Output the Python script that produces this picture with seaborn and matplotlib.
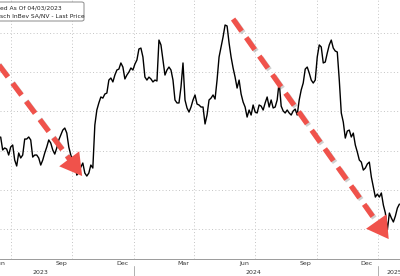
import matplotlib
matplotlib.use("Agg")
import matplotlib.pyplot as plt
import matplotlib.dates as mdates
import matplotlib.patheffects as pe
from matplotlib.patches import FancyBboxPatch
from matplotlib.lines import Line2D
from matplotlib.ticker import NullFormatter
import numpy as np
import pandas as pd
import seaborn as sns

# ---------------- data ----------------
start_date = "2023-06-16"
step_days = 3
prices = [
    53.37, 52.54, 52.67, 52.60, 52.22, 52.73, 52.86, 51.90, 51.52, 52.35,
    52.03, 52.22, 53.24, 53.24, 53.37, 53.18, 52.09, 52.22, 52.22, 52.03,
    51.58, 51.90, 52.35, 52.73, 53.18, 52.98, 52.54, 52.28, 52.67, 53.18,
    53.49, 53.81, 53.94, 53.62, 52.73, 52.22, 51.90, 51.77, 50.94, 51.13,
    51.45, 51.71, 51.07, 50.88, 51.07, 51.58, 51.39, 54.13, 55.09, 55.54,
    55.92, 55.85, 56.11, 56.17, 57.00, 57.13, 56.88, 57.32, 57.64, 57.70,
    58.09, 57.83, 57.07, 57.32, 57.51, 57.77, 57.64, 58.02, 58.28, 58.98,
    59.04, 58.47, 57.19, 57.00, 57.19, 57.07, 56.88, 57.00, 56.94, 59.55,
    59.24, 58.28, 57.32, 57.64, 57.83, 57.64, 57.00, 55.73, 55.54, 55.54,
    56.56, 58.09, 55.73, 55.22, 54.96, 55.28, 55.73, 56.05, 55.47, 55.41,
    55.28, 55.28, 54.20, 54.77, 55.73, 55.85, 56.05, 55.79, 57.00, 58.47,
    59.11, 59.75, 60.51, 60.45, 59.36, 58.47, 57.77, 57.19, 56.49, 57.00,
    56.11, 55.60, 55.28, 54.64, 55.09, 54.77, 55.41, 54.96, 54.90, 55.41,
    55.34, 55.09, 55.54, 55.92, 55.28, 55.73, 55.22, 55.28, 55.73, 56.88,
    55.34, 55.03, 54.90, 55.09, 54.90, 54.77, 55.03, 55.15, 54.77, 55.73,
    56.37, 56.81, 57.70, 57.83, 57.45, 57.00, 56.81, 57.00, 58.47, 59.24,
    59.11, 58.09, 58.15, 58.72, 59.24, 59.55, 59.04, 58.85, 58.79, 57.00,
    54.90, 54.32, 53.30, 53.75, 53.81, 53.37, 53.62, 52.86, 52.41, 51.90,
    51.77, 51.26, 51.39, 51.65, 51.77, 50.82, 50.18, 49.54, 49.73, 49.54,
    49.80, 49.03, 48.52, 47.44, 48.52, 48.20, 47.95, 48.33, 48.84, 49.09,
]
dates = pd.date_range(start_date, periods=len(prices), freq=f"{step_days}D")

month_labels = ["Jun", "Sep", "Dec", "Mar", "Jun", "Sep", "Dec"]
month_label_dates = ["2023-06-15", "2023-09-15", "2023-12-15", "2024-03-15",
                     "2024-06-15", "2024-09-15", "2024-12-15"]
year_labels = ["2023", "2024", "2025"]
year_label_dates = ["2023-08-14", "2024-06-28", "2025-01-26"]
year_boundaries = ["2024-01-01", "2025-01-01"]
quarter_grid_dates = ["2023-07-01", "2023-10-01", "2024-01-01", "2024-04-01",
                      "2024-07-01", "2024-10-01", "2025-01-01"]
price_grid = [47.5, 50.0, 52.5, 55.0, 57.5, 60.0]

legend_line1 = "ed As Of 04/03/2023"
legend_line2 = "sch InBev SA/NV - Last Price"

arrow_starts = [("2023-06-01", 58.66), ("2024-05-29", 60.89)]
arrow_tips = [("2023-10-16", 50.88), ("2025-01-17", 46.86)]

# ---------------- figure ----------------
sns.set_style("white")
plt.rcParams["font.family"] = ["DejaVu Sans"]

W, H = 400, 276
fig = plt.figure(figsize=(W / 100, H / 100), dpi=100)
ax_bottom_px = 17
ax_h = H - ax_bottom_px
ax = fig.add_axes([0, ax_bottom_px / H, 1, ax_h / H])

df = pd.DataFrame({"date": dates, "price": prices})
sns.lineplot(data=df, x="date", y="price", ax=ax, color="black", lw=1.0, zorder=3)
ax.set_xlabel("")
ax.set_ylabel("")

ax.set_xlim(pd.Timestamp("2023-06-16 07:00"), pd.Timestamp("2025-02-02 22:00"))
ax.set_ylim(45.59, 62.105)

grid_kw = dict(color="#c4c4c4", lw=0.7, linestyle=(0, (1, 2.4)), zorder=1)
for v in price_grid:
    ax.axhline(v, **grid_kw)
for d in quarter_grid_dates:
    ax.axvline(pd.Timestamp(d), **grid_kw)

ax.set_yticks([])
for s in ["top", "left", "right"]:
    ax.spines[s].set_visible(False)
ax.spines["bottom"].set_color("#9a9a9a")
ax.spines["bottom"].set_linewidth(0.7)

ax.xaxis.set_major_locator(mdates.MonthLocator())
ax.xaxis.set_major_formatter(NullFormatter())
ax.set_xticks(pd.to_datetime(month_label_dates), labels=month_labels, minor=True)
ax.tick_params(axis="x", which="major", length=2.5, width=0.6, color="#9a9a9a",
               direction="out")
ax.tick_params(axis="x", which="minor", length=0, pad=1.2, labelsize=4.5,
               labelcolor="#333333")

# year row
xt = ax.get_xaxis_transform()
for lab, d in zip(year_labels, year_label_dates):
    ax.text(pd.Timestamp(d), -(272 - ax_h) / ax_h, lab, transform=xt,
            ha="center", va="center", fontsize=4.5, color="#333333",
            clip_on=False)
for d in year_boundaries:
    ax.add_line(Line2D([pd.Timestamp(d)] * 2,
                       [-(266 - ax_h) / ax_h, -(277 - ax_h) / ax_h],
                       transform=xt, color="#b0b0b0", lw=0.7, clip_on=False))

# red dashed arrows
red = "#F0524B"
shadow = [pe.SimpleLineShadow(offset=(1.2, -1.2), shadow_color="#777777", alpha=0.35),
          pe.Normal()]
inv = ax.transData.inverted()
for (sd, sv), (td, tv) in zip(arrow_starts, arrow_tips):
    s_num = mdates.date2num(pd.Timestamp(sd))
    t_num = mdates.date2num(pd.Timestamp(td))
    p0 = ax.transData.transform((s_num, sv))
    p1 = ax.transData.transform((t_num, tv))
    vec = p1 - p0
    unit = vec / np.hypot(*vec)
    e = inv.transform(p1 - unit * 14)
    hb = inv.transform(p1 - unit * 24)
    ax.plot([s_num, e[0]], [sv, e[1]], color=red,
            lw=3.8, dashes=(2.8, 1.5), dash_capstyle="butt", zorder=4,
            path_effects=shadow)
    ax.annotate("", xy=(t_num, tv), xytext=(hb[0], hb[1]),
                arrowprops=dict(arrowstyle="-|>,head_length=1.55,head_width=0.9",
                                color=red, lw=0, shrinkA=0, shrinkB=0,
                                mutation_scale=10),
                zorder=5)

# legend box (top-left, partly cut off)
box = FancyBboxPatch((-10 / W, 1 - 21 / H), 94 / W, 19 / H,
                     boxstyle="round,pad=0,rounding_size=0.006",
                     transform=fig.transFigure, facecolor="white",
                     edgecolor="#8a8a8a", lw=0.7, zorder=10)
fig.add_artist(box)
fig.text(0.5 / W, 1 - 7.5 / H, legend_line1, fontsize=4.3, color="#222222",
         ha="left", va="center", zorder=11)
fig.text(0.5 / W, 1 - 15.5 / H, legend_line2, fontsize=4.3, color="#222222",
         ha="left", va="center", zorder=11)

fig.savefig("out.png", dpi=100)
